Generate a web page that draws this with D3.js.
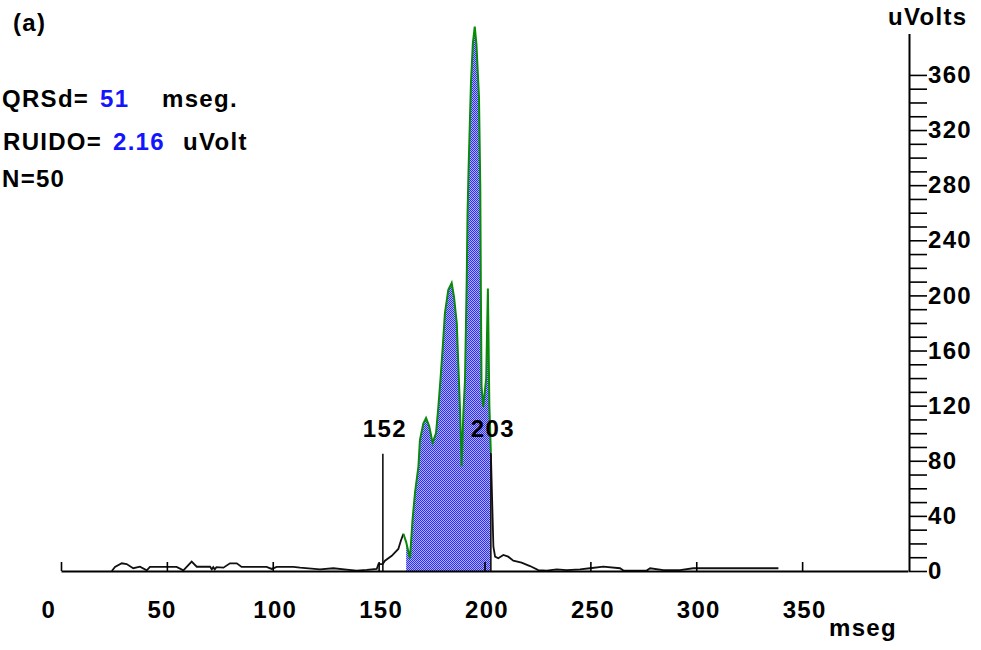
<!DOCTYPE html>
<html>
<head>
<meta charset="utf-8">
<script src="https://cdn.jsdelivr.net/npm/d3@7/dist/d3.min.js"></script>
<style>
  html, body { margin: 0; padding: 0; background: #ffffff; }
  svg { display: block; }
  text { font-family: "Liberation Sans", Arial, sans-serif; font-weight: bold; }
</style>
</head>
<body>
<svg id="chart" width="981" height="650"></svg>
<script>
// Averaged signal: time (ms) and amplitude (uV)
const timeMs = [
  24.0, 25.5, 28.7, 31.0, 34.1, 37.3, 40.5, 42.0, 49.1, 54.6, 57.8, 61.7, 64.1, 70.4,
  71.2, 71.9, 72.6, 73.4, 76.7, 79.8, 83.0, 85.3, 97.1, 99.5, 101.9, 109.7, 112.9, 122.3,
  128.6, 134.9, 139.6, 144.4, 149.1, 149.9, 151.9, 153.0, 156.2, 159.3, 160.5, 161.7,
  163.0, 164.8, 166.0, 167.2, 168.8, 169.5, 171.1, 172.4, 173.9, 175.5, 177.1, 178.2,
  179.3, 180.3, 181.3, 182.9, 184.5, 185.6, 186.9, 187.6, 188.4, 189.2, 190.0, 190.8,
  191.6, 192.0, 192.5, 193.6, 194.5, 195.4, 196.2, 197.4, 198.0, 198.3, 198.6, 199.4,
  200.0, 200.8, 201.6, 202.3, 203.0,
  204.2, 205.0, 206.5, 208.9, 211.2, 213.6, 217.5, 221.5, 225.4, 229.4, 234.1, 238.8,
  245.1, 249.8, 256.1, 264.0, 265.6, 276.6, 278.2, 284.5, 292.3, 298.6, 308.0, 314.4,
  323.8, 338.8
];
const uVolts = [
  0, 3, 5.6, 5, 2, 3.1, 0.5, 3, 3, 3, 0.5, 6.8, 3.1, 3.1,
  1.2, 2.8, 1.2, 2.8, 2.4, 5.6, 5.6, 3, 3, 1.5, 3, 3, 2.4, 1.2,
  2, 1, 0.3, 0.8, 1.5, 5, 5, 7.5, 11, 16, 22, 27,
  21, 9, 37, 57, 76, 95, 107, 111, 105, 93, 100, 119,
  141, 163, 187, 204, 209, 199, 180, 151, 119, 76, 114, 139,
  211, 260, 293, 354, 383, 395, 382, 344, 279, 200, 134, 119,
  128, 140, 205, 120, 86,
  17.6, 10.4, 9.2, 11.6, 10.4, 7.5, 6, 3.6, 0.7, 0.3, 1.2, 0.7,
  1.2, 2, 3.1, 2, 0.3, 0.3, 2, 0.7, 0.7, 2, 2, 2,
  2, 2
];

// QRS markers and measurements
const qrsOnset = 152;
const qrsOffset = 203;
const qrsTraceStart = 161.7;
const qrsFillStart = 163;
const xTicks = [0, 50, 100, 150, 200, 250, 300, 350];
const yTicks = d3.range(0, 361, 10);
const yLabelStep = 40;

const svg = d3.select("#chart");

const x = d3.scaleLinear().domain([0, 400]).range([61, 908]);
const y = d3.scaleLinear().domain([0, 390]).range([571, 571 - 390 * 1.378]);

const pts = timeMs.map((t, i) => ({ t, v: uVolts[i] }));

// checkerboard blue fill
const defs = svg.append("defs");
const pat = defs.append("pattern").attr("id", "dither")
  .attr("patternUnits", "userSpaceOnUse").attr("width", 2).attr("height", 2);
pat.append("rect").attr("width", 2).attr("height", 2).attr("fill", "#b0b0ff");
pat.append("rect").attr("x", 0).attr("y", 0).attr("width", 1).attr("height", 1).attr("fill", "#2e2ef2");
pat.append("rect").attr("x", 1).attr("y", 1).attr("width", 1).attr("height", 1).attr("fill", "#2e2ef2");

const line = d3.line().x(d => x(d.t)).y(d => y(d.v));
const area = d3.area().x(d => x(d.t)).y0(y(0)).y1(d => y(d.v));

// filled QRS area
svg.append("path")
  .datum(pts.filter(d => d.t >= qrsFillStart && d.t <= qrsOffset))
  .attr("d", area)
  .attr("fill", "url(#dither)");

// signal before and after the QRS
svg.append("path")
  .datum(pts.filter(d => d.t <= qrsTraceStart))
  .attr("d", line).attr("fill", "none").attr("stroke", "#111").attr("stroke-width", 1.8);
svg.append("path")
  .datum(pts.filter(d => d.t >= qrsOffset))
  .attr("d", line).attr("fill", "none").attr("stroke", "#111").attr("stroke-width", 1.8);

// QRS outline
svg.append("path")
  .datum(pts.filter(d => d.t >= qrsTraceStart && d.t <= qrsOffset))
  .attr("d", line).attr("fill", "none").attr("stroke", "#0a8a0a").attr("stroke-width", 2);

// onset / offset markers
[qrsOnset, qrsOffset].forEach(m => {
  svg.append("line")
    .attr("x1", x(m)).attr("x2", x(m))
    .attr("y1", y(85)).attr("y2", y(0))
    .attr("stroke", "#111").attr("stroke-width", 1.6);
  svg.append("text")
    .attr("x", x(m) - 20).attr("y", 437)
    .attr("font-size", 24).attr("letter-spacing", 1.3)
    .attr("fill", "#000")
    .text(m);
});

// x axis along the baseline, ticks pointing up
const gx = svg.append("g").attr("transform", `translate(0,${y(0)})`)
  .call(d3.axisBottom(x).tickValues(xTicks).tickSizeInner(-9).tickSizeOuter(0).tickFormat(d3.format("d")));
gx.select(".domain").attr("stroke", "#000").attr("stroke-width", 2);
gx.selectAll(".tick line").attr("stroke", "#000").attr("stroke-width", 1.6);
gx.selectAll(".tick text")
  .attr("x", -20).attr("y", 47).attr("dy", 0)
  .attr("text-anchor", "start")
  .attr("font-size", 24).attr("letter-spacing", 1.3)
  .attr("font-family", "Liberation Sans, Arial, sans-serif")
  .attr("font-weight", "bold").attr("fill", "#000");

// right-hand amplitude axis
const gy = svg.append("g").attr("transform", `translate(${x(400) + 1},0)`)
  .call(d3.axisRight(y).tickValues(yTicks).tickSizeInner(18).tickSizeOuter(0).tickPadding(1)
    .tickFormat(d => d % yLabelStep === 0 ? d : ""));
gy.select(".domain").attr("stroke", "#000").attr("stroke-width", 2);
gy.selectAll(".tick line").attr("stroke", "#000").attr("stroke-width", 1.6);
gy.selectAll(".tick text")
  .attr("font-size", 24).attr("letter-spacing", 1.3)
  .attr("font-family", "Liberation Sans, Arial, sans-serif")
  .attr("font-weight", "bold").attr("fill", "#000");

// titles and readouts
const txt = (s, tx, ty, color) => svg.append("text")
  .attr("x", tx).attr("y", ty).attr("font-size", 24).attr("letter-spacing", 1.3)
  .attr("fill", color || "#000").text(s);

txt("(a)", 13, 31);
txt("uVolts", 888, 25);
txt("mseg", 829, 636);
txt("QRSd=", 2, 107);
txt("51", 100, 107, "#1414ff");
txt("mseg.", 162, 107);
txt("RUIDO=", 3, 150);
txt("2.16", 113, 150, "#1414ff");
txt("uVolt", 183, 150);
txt("N=50", 2, 187);
</script>
</body>
</html>
